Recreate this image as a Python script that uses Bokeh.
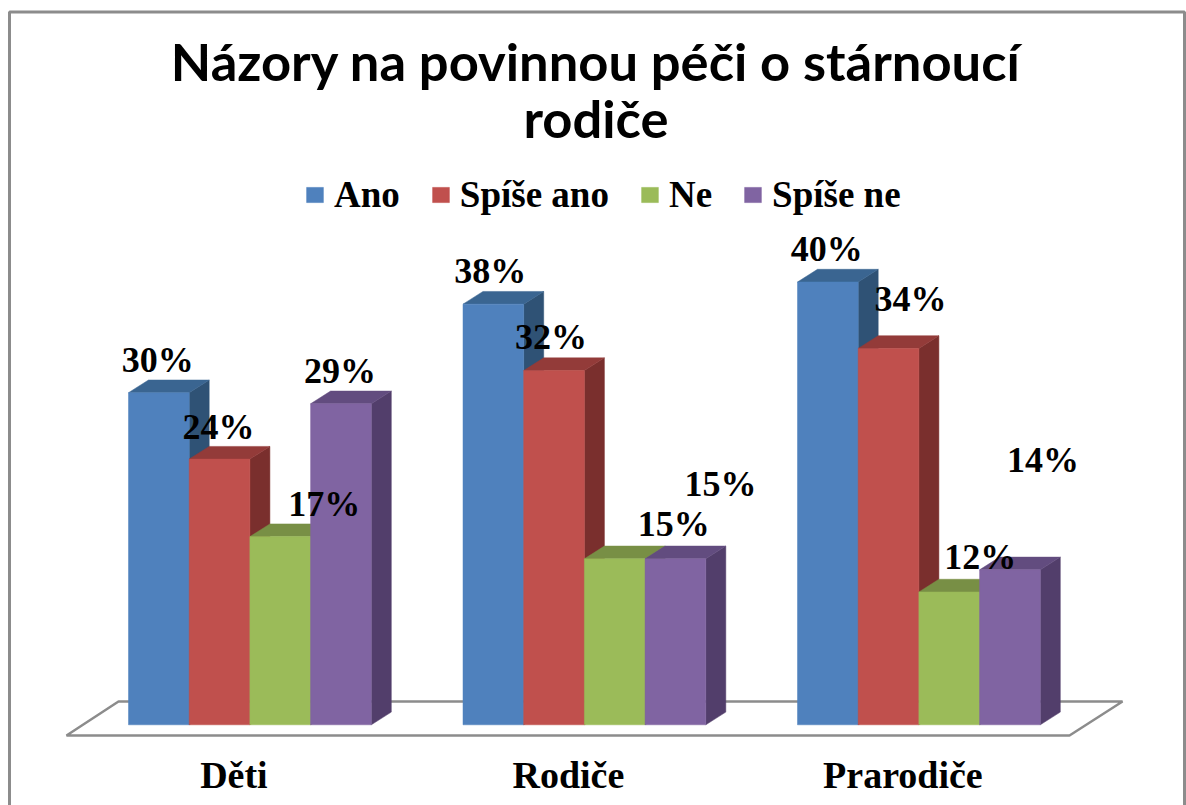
from bokeh.plotting import figure
from bokeh.models import Range1d, Legend, LegendItem, ColumnDataSource
from bokeh.core.properties import value
from bokeh.embed import file_html
from bokeh.resources import INLINE

# ---- data ----
title_lines = ["Názory na povinnou péči o stárnoucí", "rodiče"]
categories = ["Děti", "Rodiče", "Prarodiče"]
series_names = ["Ano", "Spíše ano", "Ne", "Spíše ne"]
ano = [30, 38, 40]
spise_ano = [24, 32, 34]
ne = [17, 15, 12]
spise_ne = [29, 15, 14]
series_values = [ano, spise_ano, ne, spise_ne]

# ---- style ----
front_colors = ["#4F81BD", "#C0504D", "#9BBB59", "#8064A2"]
top_colors = ["#3A6591", "#933B39", "#788F45", "#624C7F"]
side_colors = ["#2F5275", "#7A2F2D", "#627539", "#523E6B"]
label_dx = [[-1, -3, -1], [-1, -3, 22], [44, 59, 31], [-1, 45, 33]]
label_dy = [[-33, -33, -33], [-32, -34, -49], [-33, -35, -35], [-33, -75, -110]]

W, H = 1186, 805
BASE_PX, PX_PER_PCT = 724.3, 11.07
LEFT_PX, PX_PER_GROUP, BAR_PX = 128.0, 334.5, 60.7
DEPTH_X, DEPTH_Y = 20.0, 12.7
bar_w = BAR_PX / PX_PER_GROUP
dx = DEPTH_X / PX_PER_GROUP
dy = DEPTH_Y / PX_PER_PCT


def X(px):
    return (px - LEFT_PX) / PX_PER_GROUP


def Y(px):
    return (BASE_PX - px) / PX_PER_PCT


p = figure(width=W, height=H, output_backend="svg", toolbar_location=None,
           x_range=Range1d(X(0), X(W)), y_range=Range1d(Y(H), Y(0)),
           min_border=0, min_border_left=0, min_border_right=0, min_border_top=0,
           min_border_bottom=0, outline_line_color=None, background_fill_color="white",
           border_fill_color="white")
p.xaxis.visible = False
p.yaxis.visible = False
p.grid.visible = False

GREY = "#8C8C8C"
# chart frame
p.line([X(9), X(9), X(1184), X(1184)], [Y(805), Y(11.5), Y(11.5), Y(805)],
       line_color=GREY, line_width=3)
# floor
p.patch([X(66), X(118), X(1122), X(1069)], [Y(735), Y(701), Y(701), Y(735)],
        fill_color="white", line_color=GREY, line_width=2.5)

# bars
legend_items = []
for s, (vals, name) in enumerate(zip(series_values, series_names)):
    lefts = [g + s * bar_w for g in range(len(vals))]
    rights = [l + bar_w for l in lefts]
    p.patches([[r, r + dx, r + dx, r] for r in rights],
              [[0, dy, v + dy, v] for v in vals],
              fill_color=side_colors[s], line_color=side_colors[s], line_width=0.5)
    p.patches([[l, l + dx, r + dx, r] for l, r in zip(lefts, rights)],
              [[v, v + dy, v + dy, v] for v in vals],
              fill_color=top_colors[s], line_color=top_colors[s], line_width=0.5)
    r = p.vbar(x=[l + bar_w / 2 for l in lefts], top=vals, bottom=0, width=bar_w,
               fill_color=front_colors[s], line_color=front_colors[s], line_width=0.5)
    legend_items.append(LegendItem(label=name, renderers=[r]))

# data labels
for s, vals in enumerate(series_values):
    src = ColumnDataSource(dict(
        x=[g + (s + 0.5) * bar_w for g in range(len(vals))], y=vals,
        t=[f"{v}%" for v in vals], xo=label_dx[s], yo=label_dy[s]))
    p.text(x="x", y="y", text="t", x_offset="xo", y_offset="yo", source=src,
           text_align="center", text_baseline="middle", text_color="black",
           text_font=value("Liberation Serif"), text_font_style="bold", text_font_size="36px")

# title
p.text(x=[X(595.5), X(595.5)], y=[Y(60), Y(117)], text=title_lines, text_align="center",
       text_baseline="middle", text_color="black", text_font=value("Lato"),
       text_font_style="bold", text_font_size="52.5px")

# category labels
p.text(x=[g + 2 * bar_w - 16 / PX_PER_GROUP for g in range(3)], y=[Y(774)] * 3,
       text=categories, text_align="center", text_baseline="middle", text_color="black",
       text_font=value("Liberation Serif"), text_font_style="bold", text_font_size="38px")

# legend
legend = Legend(items=legend_items, orientation="horizontal", location=(304, 589),
                label_standoff=9, spacing=30, glyph_width=21, glyph_height=19,
                label_text_font="Liberation Serif", label_text_font_style="bold",
                label_text_font_size="37px", label_text_color="black",
                border_line_color=None, background_fill_alpha=0, padding=6, margin=0)
p.add_layout(legend, "center")

open("out.html", "w").write(file_html(p, INLINE))
